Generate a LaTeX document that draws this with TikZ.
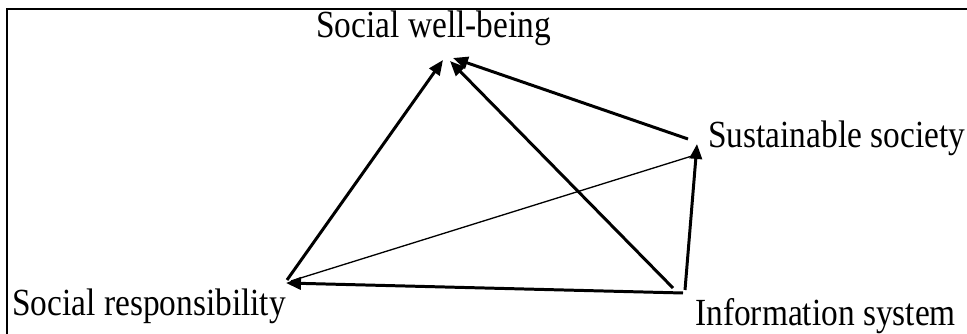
\documentclass[tikz,border=0pt]{standalone}
\usepackage{fontspec}
\setmainfont{Liberation Serif}
\usetikzlibrary{arrows.meta}
\newcommand{\tallText}[1]{\scalebox{1}[1.15]{#1}}

\begin{document}
\begin{tikzpicture}[x=0.02cm,y=-0.02cm]
\tikzset{
  textnode/.style={inner sep=0pt,anchor=base west,font=\fontsize{19pt}{22pt}\selectfont},
  directed/.style={-{Triangle[length=8.5pt,width=7pt]},line width=1.7pt},
  undirected/.style={line width=0.75pt}
}
\useasboundingbox (0,0) rectangle (967,334);
\draw[line width=1.1pt] (7,345) |- (980,9);
\node[textnode] (n_swb) at (316,38) {\tallText{Social well-being}};
\node[textnode] (n_ss) at (708,148) {\tallText{Sustainable society}};
\node[textnode] (n_sr) at (12,316) {\tallText{Social responsibility}};
\node[textnode] (n_is) at (695,325) {\tallText{Information system}};
\draw[directed] ([shift={(275,-36)}]n_sr.base west) -- ([shift={(127,22)}]n_swb.base west);
\draw[directed] ([shift={(-22,-37)}]n_is.base west) -- ([shift={(134,23)}]n_swb.base west);
\draw[directed] ([shift={(-20,-9)}]n_ss.base west) -- ([shift={(137,20)}]n_swb.base west);
\draw[directed] ([shift={(-10,-35)}]n_is.base west) -- ([shift={(-11,-4)}]n_ss.base west);
\draw[directed] ([shift={(-12,-32)}]n_is.base west) -- ([shift={(274,-33)}]n_sr.base west);
\draw[undirected] ([shift={(279,-35)}]n_sr.base west) -- ([shift={(-16,8)}]n_ss.base west);
\end{tikzpicture}
\end{document}
